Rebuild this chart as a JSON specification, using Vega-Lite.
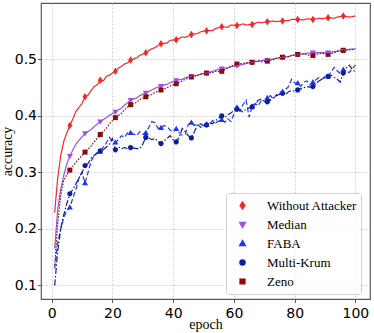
{
  "$schema": "https://vega.github.io/schema/vega-lite/v6.json",
  "width": 329,
  "height": 296,
  "autosize": "none",
  "padding": {"left": 41, "top": 3, "right": 4, "bottom": 34},
  "background": "white",
  "data": {"values": [
    {"e":1,"s":"Without Attacker","v":0.229},{"e":2,"s":"Without Attacker","v":0.29},{"e":3,"s":"Without Attacker","v":0.33},{"e":4,"s":"Without Attacker","v":0.355},{"e":5,"s":"Without Attacker","v":0.37},{"e":6,"s":"Without Attacker","v":0.383},{"e":7,"s":"Without Attacker","v":0.395},{"e":8,"s":"Without Attacker","v":0.408},{"e":9,"s":"Without Attacker","v":0.415},{"e":10,"s":"Without Attacker","v":0.422},{"e":11,"s":"Without Attacker","v":0.434},{"e":12,"s":"Without Attacker","v":0.437},{"e":13,"s":"Without Attacker","v":0.445},{"e":14,"s":"Without Attacker","v":0.452},{"e":15,"s":"Without Attacker","v":0.455},{"e":16,"s":"Without Attacker","v":0.463},{"e":17,"s":"Without Attacker","v":0.462},{"e":18,"s":"Without Attacker","v":0.47},{"e":19,"s":"Without Attacker","v":0.472},{"e":20,"s":"Without Attacker","v":0.476},{"e":21,"s":"Without Attacker","v":0.479},{"e":22,"s":"Without Attacker","v":0.485},{"e":23,"s":"Without Attacker","v":0.488},{"e":24,"s":"Without Attacker","v":0.492},{"e":25,"s":"Without Attacker","v":0.494},{"e":26,"s":"Without Attacker","v":0.499},{"e":28,"s":"Without Attacker","v":0.503},{"e":29,"s":"Without Attacker","v":0.507},{"e":31,"s":"Without Attacker","v":0.512},{"e":33,"s":"Without Attacker","v":0.519},{"e":34,"s":"Without Attacker","v":0.521},{"e":36,"s":"Without Attacker","v":0.528},{"e":38,"s":"Without Attacker","v":0.529},{"e":39,"s":"Without Attacker","v":0.534},{"e":41,"s":"Without Attacker","v":0.535},{"e":43,"s":"Without Attacker","v":0.54},{"e":44,"s":"Without Attacker","v":0.539},{"e":46,"s":"Without Attacker","v":0.544},{"e":48,"s":"Without Attacker","v":0.546},{"e":49,"s":"Without Attacker","v":0.549},{"e":51,"s":"Without Attacker","v":0.551},{"e":53,"s":"Without Attacker","v":0.551},{"e":54,"s":"Without Attacker","v":0.555},{"e":56,"s":"Without Attacker","v":0.558},{"e":58,"s":"Without Attacker","v":0.557},{"e":59,"s":"Without Attacker","v":0.561},{"e":61,"s":"Without Attacker","v":0.56},{"e":63,"s":"Without Attacker","v":0.563},{"e":64,"s":"Without Attacker","v":0.561},{"e":66,"s":"Without Attacker","v":0.562},{"e":68,"s":"Without Attacker","v":0.566},{"e":69,"s":"Without Attacker","v":0.565},{"e":71,"s":"Without Attacker","v":0.567},{"e":73,"s":"Without Attacker","v":0.568},{"e":74,"s":"Without Attacker","v":0.567},{"e":76,"s":"Without Attacker","v":0.568},{"e":78,"s":"Without Attacker","v":0.569},{"e":79,"s":"Without Attacker","v":0.571},{"e":81,"s":"Without Attacker","v":0.571},{"e":83,"s":"Without Attacker","v":0.57},{"e":84,"s":"Without Attacker","v":0.572},{"e":86,"s":"Without Attacker","v":0.571},{"e":88,"s":"Without Attacker","v":0.573},{"e":89,"s":"Without Attacker","v":0.572},{"e":91,"s":"Without Attacker","v":0.574},{"e":93,"s":"Without Attacker","v":0.573},{"e":94,"s":"Without Attacker","v":0.575},{"e":96,"s":"Without Attacker","v":0.577},{"e":98,"s":"Without Attacker","v":0.575},{"e":100,"s":"Without Attacker","v":0.577},

    {"e":1,"s":"Median","v":0.165},{"e":2,"s":"Median","v":0.235},{"e":3,"s":"Median","v":0.27},{"e":4,"s":"Median","v":0.295},{"e":5,"s":"Median","v":0.315},{"e":6,"s":"Median","v":0.329},{"e":7,"s":"Median","v":0.34},{"e":8,"s":"Median","v":0.35},{"e":9,"s":"Median","v":0.357},{"e":10,"s":"Median","v":0.363},{"e":11,"s":"Median","v":0.369},{"e":13,"s":"Median","v":0.376},{"e":14,"s":"Median","v":0.381},{"e":16,"s":"Median","v":0.39},{"e":18,"s":"Median","v":0.397},{"e":19,"s":"Median","v":0.401},{"e":21,"s":"Median","v":0.407},{"e":23,"s":"Median","v":0.414},{"e":24,"s":"Median","v":0.419},{"e":26,"s":"Median","v":0.428},{"e":28,"s":"Median","v":0.432},{"e":29,"s":"Median","v":0.436},{"e":31,"s":"Median","v":0.441},{"e":33,"s":"Median","v":0.446},{"e":34,"s":"Median","v":0.449},{"e":36,"s":"Median","v":0.453},{"e":38,"s":"Median","v":0.456},{"e":39,"s":"Median","v":0.459},{"e":41,"s":"Median","v":0.463},{"e":43,"s":"Median","v":0.465},{"e":44,"s":"Median","v":0.468},{"e":46,"s":"Median","v":0.47},{"e":48,"s":"Median","v":0.472},{"e":49,"s":"Median","v":0.474},{"e":51,"s":"Median","v":0.476},{"e":53,"s":"Median","v":0.479},{"e":54,"s":"Median","v":0.481},{"e":56,"s":"Median","v":0.484},{"e":58,"s":"Median","v":0.485},{"e":59,"s":"Median","v":0.487},{"e":61,"s":"Median","v":0.489},{"e":63,"s":"Median","v":0.491},{"e":64,"s":"Median","v":0.493},{"e":66,"s":"Median","v":0.495},{"e":68,"s":"Median","v":0.497},{"e":69,"s":"Median","v":0.498},{"e":71,"s":"Median","v":0.499},{"e":73,"s":"Median","v":0.501},{"e":74,"s":"Median","v":0.502},{"e":76,"s":"Median","v":0.504},{"e":78,"s":"Median","v":0.505},{"e":79,"s":"Median","v":0.507},{"e":81,"s":"Median","v":0.509},{"e":83,"s":"Median","v":0.51},{"e":84,"s":"Median","v":0.511},{"e":86,"s":"Median","v":0.512},{"e":88,"s":"Median","v":0.512},{"e":89,"s":"Median","v":0.512},{"e":91,"s":"Median","v":0.512},{"e":93,"s":"Median","v":0.514},{"e":94,"s":"Median","v":0.515},{"e":96,"s":"Median","v":0.517},{"e":98,"s":"Median","v":0.518},{"e":100,"s":"Median","v":0.519},

    {"e":1,"s":"Zeno","v":0.135},{"e":2,"s":"Zeno","v":0.21},{"e":3,"s":"Zeno","v":0.26},{"e":4,"s":"Zeno","v":0.286},{"e":5,"s":"Zeno","v":0.296},{"e":6,"s":"Zeno","v":0.304},{"e":7,"s":"Zeno","v":0.311},{"e":8,"s":"Zeno","v":0.318},{"e":9,"s":"Zeno","v":0.324},{"e":10,"s":"Zeno","v":0.33},{"e":11,"s":"Zeno","v":0.336},{"e":13,"s":"Zeno","v":0.347},{"e":14,"s":"Zeno","v":0.354},{"e":16,"s":"Zeno","v":0.367},{"e":18,"s":"Zeno","v":0.378},{"e":19,"s":"Zeno","v":0.386},{"e":21,"s":"Zeno","v":0.397},{"e":23,"s":"Zeno","v":0.405},{"e":24,"s":"Zeno","v":0.411},{"e":26,"s":"Zeno","v":0.42},{"e":28,"s":"Zeno","v":0.424},{"e":29,"s":"Zeno","v":0.429},{"e":31,"s":"Zeno","v":0.434},{"e":33,"s":"Zeno","v":0.438},{"e":34,"s":"Zeno","v":0.442},{"e":36,"s":"Zeno","v":0.446},{"e":38,"s":"Zeno","v":0.45},{"e":39,"s":"Zeno","v":0.453},{"e":41,"s":"Zeno","v":0.457},{"e":43,"s":"Zeno","v":0.462},{"e":44,"s":"Zeno","v":0.465},{"e":46,"s":"Zeno","v":0.469},{"e":48,"s":"Zeno","v":0.472},{"e":49,"s":"Zeno","v":0.474},{"e":51,"s":"Zeno","v":0.476},{"e":53,"s":"Zeno","v":0.477},{"e":54,"s":"Zeno","v":0.479},{"e":56,"s":"Zeno","v":0.479},{"e":58,"s":"Zeno","v":0.485},{"e":59,"s":"Zeno","v":0.488},{"e":61,"s":"Zeno","v":0.492},{"e":63,"s":"Zeno","v":0.493},{"e":64,"s":"Zeno","v":0.494},{"e":66,"s":"Zeno","v":0.495},{"e":68,"s":"Zeno","v":0.497},{"e":69,"s":"Zeno","v":0.496},{"e":71,"s":"Zeno","v":0.497},{"e":73,"s":"Zeno","v":0.5},{"e":74,"s":"Zeno","v":0.502},{"e":76,"s":"Zeno","v":0.504},{"e":78,"s":"Zeno","v":0.505},{"e":79,"s":"Zeno","v":0.507},{"e":81,"s":"Zeno","v":0.509},{"e":83,"s":"Zeno","v":0.51},{"e":84,"s":"Zeno","v":0.508},{"e":86,"s":"Zeno","v":0.507},{"e":88,"s":"Zeno","v":0.51},{"e":89,"s":"Zeno","v":0.511},{"e":91,"s":"Zeno","v":0.509},{"e":93,"s":"Zeno","v":0.512},{"e":94,"s":"Zeno","v":0.514},{"e":96,"s":"Zeno","v":0.516},{"e":98,"s":"Zeno","v":0.517},{"e":100,"s":"Zeno","v":0.518},

    {"e":1,"s":"FABA","v":0.13},{"e":2,"s":"FABA","v":0.175},{"e":3,"s":"FABA","v":0.2},{"e":4,"s":"FABA","v":0.22},{"e":5,"s":"FABA","v":0.232},{"e":6,"s":"FABA","v":0.238},{"e":7,"s":"FABA","v":0.255},{"e":8,"s":"FABA","v":0.27},{"e":9,"s":"FABA","v":0.29},{"e":10,"s":"FABA","v":0.3},{"e":11,"s":"FABA","v":0.281},{"e":12,"s":"FABA","v":0.3},{"e":13,"s":"FABA","v":0.32},{"e":14,"s":"FABA","v":0.33},{"e":15,"s":"FABA","v":0.335},{"e":16,"s":"FABA","v":0.337},{"e":17,"s":"FABA","v":0.345},{"e":18,"s":"FABA","v":0.352},{"e":19,"s":"FABA","v":0.362},{"e":20,"s":"FABA","v":0.355},{"e":21,"s":"FABA","v":0.353},{"e":22,"s":"FABA","v":0.358},{"e":23,"s":"FABA","v":0.365},{"e":24,"s":"FABA","v":0.362},{"e":25,"s":"FABA","v":0.37},{"e":26,"s":"FABA","v":0.37},{"e":27,"s":"FABA","v":0.368},{"e":28,"s":"FABA","v":0.365},{"e":29,"s":"FABA","v":0.372},{"e":30,"s":"FABA","v":0.368},{"e":31,"s":"FABA","v":0.37},{"e":32,"s":"FABA","v":0.38},{"e":33,"s":"FABA","v":0.39},{"e":34,"s":"FABA","v":0.388},{"e":35,"s":"FABA","v":0.378},{"e":36,"s":"FABA","v":0.379},{"e":37,"s":"FABA","v":0.383},{"e":38,"s":"FABA","v":0.381},{"e":39,"s":"FABA","v":0.375},{"e":40,"s":"FABA","v":0.372},{"e":41,"s":"FABA","v":0.377},{"e":42,"s":"FABA","v":0.37},{"e":43,"s":"FABA","v":0.366},{"e":44,"s":"FABA","v":0.368},{"e":45,"s":"FABA","v":0.385},{"e":46,"s":"FABA","v":0.388},{"e":47,"s":"FABA","v":0.383},{"e":48,"s":"FABA","v":0.386},{"e":49,"s":"FABA","v":0.38},{"e":50,"s":"FABA","v":0.382},{"e":51,"s":"FABA","v":0.385},{"e":52,"s":"FABA","v":0.384},{"e":53,"s":"FABA","v":0.392},{"e":54,"s":"FABA","v":0.388},{"e":55,"s":"FABA","v":0.391},{"e":56,"s":"FABA","v":0.393},{"e":57,"s":"FABA","v":0.389},{"e":58,"s":"FABA","v":0.395},{"e":59,"s":"FABA","v":0.39},{"e":60,"s":"FABA","v":0.403},{"e":61,"s":"FABA","v":0.415},{"e":62,"s":"FABA","v":0.408},{"e":63,"s":"FABA","v":0.42},{"e":64,"s":"FABA","v":0.428},{"e":65,"s":"FABA","v":0.398},{"e":66,"s":"FABA","v":0.417},{"e":67,"s":"FABA","v":0.422},{"e":68,"s":"FABA","v":0.418},{"e":69,"s":"FABA","v":0.427},{"e":70,"s":"FABA","v":0.425},{"e":71,"s":"FABA","v":0.432},{"e":72,"s":"FABA","v":0.436},{"e":73,"s":"FABA","v":0.43},{"e":74,"s":"FABA","v":0.438},{"e":75,"s":"FABA","v":0.44},{"e":76,"s":"FABA","v":0.443},{"e":77,"s":"FABA","v":0.447},{"e":78,"s":"FABA","v":0.452},{"e":79,"s":"FABA","v":0.465},{"e":80,"s":"FABA","v":0.458},{"e":81,"s":"FABA","v":0.458},{"e":82,"s":"FABA","v":0.452},{"e":83,"s":"FABA","v":0.46},{"e":84,"s":"FABA","v":0.462},{"e":85,"s":"FABA","v":0.455},{"e":86,"s":"FABA","v":0.46},{"e":87,"s":"FABA","v":0.464},{"e":88,"s":"FABA","v":0.468},{"e":89,"s":"FABA","v":0.465},{"e":90,"s":"FABA","v":0.47},{"e":91,"s":"FABA","v":0.47},{"e":92,"s":"FABA","v":0.478},{"e":93,"s":"FABA","v":0.486},{"e":94,"s":"FABA","v":0.48},{"e":95,"s":"FABA","v":0.475},{"e":96,"s":"FABA","v":0.482},{"e":97,"s":"FABA","v":0.479},{"e":98,"s":"FABA","v":0.477},{"e":99,"s":"FABA","v":0.484},{"e":100,"s":"FABA","v":0.49},

    {"e":1,"s":"Multi-Krum","v":0.1},{"e":2,"s":"Multi-Krum","v":0.16},{"e":3,"s":"Multi-Krum","v":0.2},{"e":4,"s":"Multi-Krum","v":0.225},{"e":5,"s":"Multi-Krum","v":0.245},{"e":6,"s":"Multi-Krum","v":0.262},{"e":7,"s":"Multi-Krum","v":0.27},{"e":8,"s":"Multi-Krum","v":0.28},{"e":9,"s":"Multi-Krum","v":0.29},{"e":10,"s":"Multi-Krum","v":0.3},{"e":11,"s":"Multi-Krum","v":0.312},{"e":12,"s":"Multi-Krum","v":0.316},{"e":13,"s":"Multi-Krum","v":0.325},{"e":14,"s":"Multi-Krum","v":0.33},{"e":15,"s":"Multi-Krum","v":0.334},{"e":16,"s":"Multi-Krum","v":0.338},{"e":17,"s":"Multi-Krum","v":0.34},{"e":18,"s":"Multi-Krum","v":0.345},{"e":19,"s":"Multi-Krum","v":0.35},{"e":20,"s":"Multi-Krum","v":0.36},{"e":21,"s":"Multi-Krum","v":0.34},{"e":22,"s":"Multi-Krum","v":0.345},{"e":23,"s":"Multi-Krum","v":0.342},{"e":24,"s":"Multi-Krum","v":0.344},{"e":25,"s":"Multi-Krum","v":0.342},{"e":26,"s":"Multi-Krum","v":0.344},{"e":27,"s":"Multi-Krum","v":0.343},{"e":28,"s":"Multi-Krum","v":0.342},{"e":29,"s":"Multi-Krum","v":0.342},{"e":30,"s":"Multi-Krum","v":0.35},{"e":31,"s":"Multi-Krum","v":0.362},{"e":32,"s":"Multi-Krum","v":0.361},{"e":33,"s":"Multi-Krum","v":0.358},{"e":34,"s":"Multi-Krum","v":0.36},{"e":35,"s":"Multi-Krum","v":0.355},{"e":36,"s":"Multi-Krum","v":0.351},{"e":37,"s":"Multi-Krum","v":0.356},{"e":38,"s":"Multi-Krum","v":0.36},{"e":39,"s":"Multi-Krum","v":0.365},{"e":40,"s":"Multi-Krum","v":0.358},{"e":41,"s":"Multi-Krum","v":0.354},{"e":42,"s":"Multi-Krum","v":0.362},{"e":43,"s":"Multi-Krum","v":0.378},{"e":44,"s":"Multi-Krum","v":0.372},{"e":45,"s":"Multi-Krum","v":0.365},{"e":46,"s":"Multi-Krum","v":0.361},{"e":47,"s":"Multi-Krum","v":0.372},{"e":48,"s":"Multi-Krum","v":0.384},{"e":49,"s":"Multi-Krum","v":0.386},{"e":50,"s":"Multi-Krum","v":0.383},{"e":51,"s":"Multi-Krum","v":0.384},{"e":52,"s":"Multi-Krum","v":0.388},{"e":53,"s":"Multi-Krum","v":0.386},{"e":54,"s":"Multi-Krum","v":0.392},{"e":55,"s":"Multi-Krum","v":0.396},{"e":56,"s":"Multi-Krum","v":0.4},{"e":57,"s":"Multi-Krum","v":0.397},{"e":58,"s":"Multi-Krum","v":0.402},{"e":59,"s":"Multi-Krum","v":0.405},{"e":60,"s":"Multi-Krum","v":0.41},{"e":61,"s":"Multi-Krum","v":0.412},{"e":62,"s":"Multi-Krum","v":0.41},{"e":63,"s":"Multi-Krum","v":0.407},{"e":64,"s":"Multi-Krum","v":0.412},{"e":65,"s":"Multi-Krum","v":0.414},{"e":66,"s":"Multi-Krum","v":0.416},{"e":67,"s":"Multi-Krum","v":0.42},{"e":68,"s":"Multi-Krum","v":0.428},{"e":69,"s":"Multi-Krum","v":0.43},{"e":70,"s":"Multi-Krum","v":0.426},{"e":71,"s":"Multi-Krum","v":0.425},{"e":72,"s":"Multi-Krum","v":0.428},{"e":73,"s":"Multi-Krum","v":0.432},{"e":74,"s":"Multi-Krum","v":0.436},{"e":75,"s":"Multi-Krum","v":0.438},{"e":76,"s":"Multi-Krum","v":0.44},{"e":77,"s":"Multi-Krum","v":0.438},{"e":78,"s":"Multi-Krum","v":0.443},{"e":79,"s":"Multi-Krum","v":0.445},{"e":80,"s":"Multi-Krum","v":0.444},{"e":81,"s":"Multi-Krum","v":0.446},{"e":82,"s":"Multi-Krum","v":0.448},{"e":83,"s":"Multi-Krum","v":0.45},{"e":84,"s":"Multi-Krum","v":0.452},{"e":85,"s":"Multi-Krum","v":0.451},{"e":86,"s":"Multi-Krum","v":0.452},{"e":87,"s":"Multi-Krum","v":0.457},{"e":88,"s":"Multi-Krum","v":0.462},{"e":89,"s":"Multi-Krum","v":0.465},{"e":90,"s":"Multi-Krum","v":0.468},{"e":91,"s":"Multi-Krum","v":0.47},{"e":92,"s":"Multi-Krum","v":0.472},{"e":93,"s":"Multi-Krum","v":0.468},{"e":94,"s":"Multi-Krum","v":0.465},{"e":95,"s":"Multi-Krum","v":0.46},{"e":96,"s":"Multi-Krum","v":0.476},{"e":97,"s":"Multi-Krum","v":0.485},{"e":98,"s":"Multi-Krum","v":0.49},{"e":99,"s":"Multi-Krum","v":0.482},{"e":100,"s":"Multi-Krum","v":0.478}
  ]},
  "encoding": {
    "x": {"field": "e", "type": "quantitative", "title": "epoch",
      "scale": {"domain": [-3.5, 104.8], "nice": false, "zero": false},
      "axis": {"values": [0, 20, 40, 60, 80, 100]}},
    "y": {"field": "v", "type": "quantitative", "title": "accuracy",
      "scale": {"domain": [0.0758, 0.6], "nice": false, "zero": false},
      "axis": {"values": [0.1, 0.2, 0.3, 0.4, 0.5], "format": ".1f"}}
  },
  "layer": [
    {
      "transform": [{"filter": "datum.e > 1 && datum.e % 5 == 1"}],
      "mark": {"type": "point", "filled": true, "size": 625, "opacity": 1},
      "encoding": {
        "color": {"field": "s", "type": "nominal",
          "scale": {"domain": ["Without Attacker", "Median", "FABA", "Multi-Krum", "Zeno"],
                    "range": ["#f42828", "#9a4fe6", "#1f35f5", "#0d1d9a", "#8b0a0a"]},
          "legend": {"orient": "none", "legendX": 185, "legendY": 190, "title": null,
            "symbolSize": 625, "symbolStrokeWidth": 1.2,
            "labelFont": "Liberation Serif", "labelFontSize": 13, "labelColor": "black", "labelOffset": 11, "labelLimit": 300,
            "padding": 3, "clipHeight": 19, "rowPadding": 0,
            "fillColor": "rgba(255,255,255,0.85)", "strokeColor": "#d0d0d0", "cornerRadius": 3}},
        "shape": {"field": "s", "type": "nominal",
          "scale": {"domain": ["Without Attacker", "Median", "FABA", "Multi-Krum", "Zeno"],
            "range": [
            "M0,-0.3L0.2,0L0,0.3L-0.2,0Z",
            "M0,0.25L0.24,-0.17L-0.24,-0.17Z",
            "M0,-0.25L0.24,0.17L-0.24,0.17Z",
            "M0.21,0A0.21,0.21,0,1,1,-0.21,0A0.21,0.21,0,1,1,0.21,0Z",
            "M-0.2,-0.2H0.2V0.2H-0.2Z"]},
          "legend": {"orient": "none", "legendX": 185, "legendY": 190, "title": null,
            "symbolSize": 625, "symbolStrokeWidth": 1.2,
            "labelFont": "Liberation Serif", "labelFontSize": 13, "labelColor": "black", "labelOffset": 11, "labelLimit": 300,
            "padding": 3, "clipHeight": 19, "rowPadding": 0,
            "fillColor": "rgba(255,255,255,0.85)", "strokeColor": "#d0d0d0", "cornerRadius": 3}}
      }
    },
    {
      "mark": {"type": "line", "strokeWidth": 1.2},
      "encoding": {
        "color": {"field": "s", "type": "nominal",
          "legend": {"orient": "none", "legendX": 185, "legendY": 190, "title": null,
            "symbolSize": 625, "symbolStrokeWidth": 1.2,
            "labelFont": "Liberation Serif", "labelFontSize": 13, "labelColor": "black", "labelOffset": 11, "labelLimit": 300,
            "padding": 3, "clipHeight": 19, "rowPadding": 0,
            "fillColor": "rgba(255,255,255,0.85)", "strokeColor": "#d0d0d0", "cornerRadius": 3}},
        "strokeDash": {"field": "s", "type": "nominal", "legend": null,
          "sort": ["Without Attacker", "Median", "FABA", "Multi-Krum", "Zeno"],
          "scale": {"range": [[1, 0], [1, 0], [5, 2.5], [6, 2, 1.5, 2], [1.5, 1.5]]}}
      }
    }
  ],
  "config": {
    "view": {"stroke": "#5a5a5a", "strokeWidth": 1.2},
    "axis": {
      "domain": false,
      "grid": true, "gridColor": "#c4c4c4", "gridDash": [2, 2], "gridWidth": 0.8,
      "ticks": true, "tickSize": 3.5, "tickColor": "#333", "tickWidth": 0.8,
      "labelFont": "DejaVu Sans", "labelFontSize": 14, "labelColor": "black",
      "titleFont": "Liberation Serif", "titleFontSize": 14, "titleFontWeight": "normal", "titleColor": "black"
    },
    "axisX": {"labelPadding": 4, "titlePadding": -3},
    "axisY": {"labelPadding": 1, "titlePadding": 0}
  }
}
